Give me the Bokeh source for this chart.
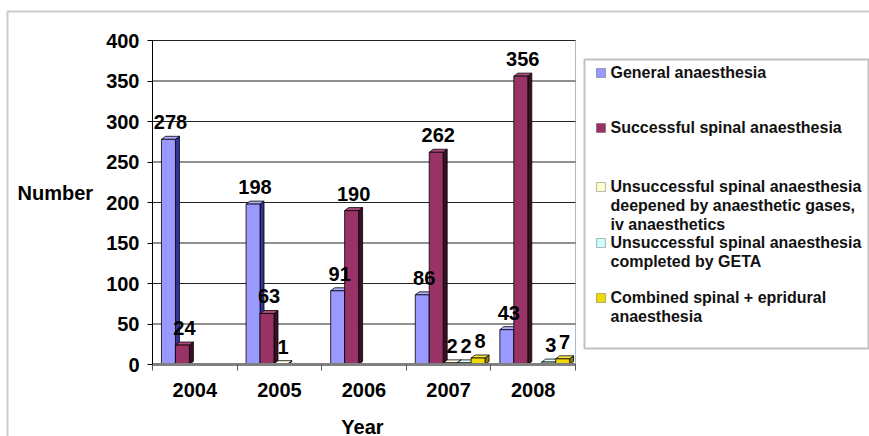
from bokeh.plotting import figure
from bokeh.models import (Range1d, FixedTicker, ColumnDataSource, Label, BoxAnnotation,
                          LinearAxis)
from bokeh.embed import file_html
from bokeh.resources import INLINE
from bokeh.core.properties import value

# ---------------- data ----------------
years = ["2004", "2005", "2006", "2007", "2008"]
general = [278, 198, 91, 86, 43]
spinal_ok = [24, 63, 190, 262, 356]
spinal_deepened = [0, 1, 0, 2, 0]
spinal_geta = [0, 0, 0, 2, 3]
combined = [0, 0, 0, 8, 7]
series_values = [general, spinal_ok, spinal_deepened, spinal_geta, combined]
legend_lines = [
    ["General anaesthesia"],
    ["Successful spinal anaesthesia"],
    ["Unsuccessful spinal anaesthesia", "deepened by anaesthetic gases,", "iv anaesthetics"],
    ["Unsuccessful spinal anaesthesia", "completed by GETA"],
    ["Combined spinal + epridural", "anaesthesia"],
]
y_ticks = [0, 50, 100, 150, 200, 250, 300, 350, 400]
y_max = 400
y_label = "Number"
x_label = "Year"

# ---------------- style / geometry ----------------
W, H = 869, 436
L, R, T, B = 152, 575, 40, 364          # plot-area edges in pixels
FONT = "Liberation Sans"
front_colors = ["#9999FF", "#993366", "#FFFFCC", "#CCFFFF", "#F2DA00"]
side_colors = ["#333399", "#3A1026", "#9C9C70", "#7FA3A3", "#8C7E00"]
top_colors = ["#B0B0FF", "#B04A7C", "#FFFFE6", "#E6FFFF", "#FFEA4D"]

n = len(years)
px_x = (R - L) / n
px_y = (B - T) / float(y_max)
depth_x = 4.0 / px_x
depth_y = 3.0 / px_y
group_start = 0.106
pitch = 0.165
label_gap = 17.0 / px_y

x_range = Range1d(-L / px_x, n + (W - R) / px_x)
y_range = Range1d(-(H - B) / px_y, y_max + T / px_y)

p = figure(width=W, height=H, x_range=x_range, y_range=y_range,
           output_backend="svg", toolbar_location=None, title=None,
           x_axis_location=None, y_axis_location=None,
           min_border=0, min_border_left=0, min_border_right=0,
           min_border_top=0, min_border_bottom=0)
p.background_fill_color = "white"
p.border_fill_color = "white"
p.outline_line_color = None
p.xgrid.grid_line_color = None
p.ygrid.grid_line_color = None

# back wall outline + horizontal grid lines
p.quad(left=[0], right=[n], bottom=[0], top=[y_max], fill_color=None,
       line_color="#A6BCCB", line_width=1)
p.segment(x0=[0] * len(y_ticks), x1=[n] * len(y_ticks), y0=y_ticks, y1=y_ticks,
          line_color="#222222", line_width=1)

# y axis
yaxis = LinearAxis(fixed_location=0, bounds=(0, y_max))
yaxis.ticker = FixedTicker(ticks=y_ticks)
yaxis.major_label_text_font = FONT
yaxis.major_label_text_font_style = "bold"
yaxis.major_label_text_font_size = "20px"
yaxis.major_label_text_color = "black"
yaxis.major_label_standoff = 8
yaxis.major_tick_in = 0
yaxis.major_tick_out = 5
yaxis.minor_tick_line_color = None
yaxis.axis_line_color = "black"
yaxis.major_tick_line_color = "black"
p.add_layout(yaxis, "left")

# x axis (floor)
centers = [i + 0.5 for i in range(n)]
xaxis = LinearAxis(fixed_location=0, bounds=(0, n))
xaxis.ticker = FixedTicker(ticks=centers, minor_ticks=list(range(n + 1)))
xaxis.major_label_overrides = {c: y for c, y in zip(centers, years)}
xaxis.major_label_text_font = FONT
xaxis.major_label_text_font_style = "bold"
xaxis.major_label_text_font_size = "20px"
xaxis.major_label_text_color = "black"
xaxis.major_label_standoff = 12
xaxis.major_tick_in = 0
xaxis.major_tick_out = 0
xaxis.minor_tick_in = 0
xaxis.minor_tick_out = 6
xaxis.minor_tick_line_color = "#555555"
xaxis.axis_line_color = "#808080"
xaxis.axis_line_width = 3
p.add_layout(xaxis, "below")

# bars (3D look: side + top faces computed from the values)
for k, vals in enumerate(series_values):
    lefts, rights, tops, side_xs, side_ys, top_xs, top_ys = [], [], [], [], [], [], []
    for i, v in enumerate(vals):
        if v <= 0:
            continue
        l = i + group_start + k * pitch
        r = l + pitch
        lefts.append(l); rights.append(r); tops.append(v)
        side_xs.append([r, r + depth_x, r + depth_x, r])
        side_ys.append([0, depth_y, v + depth_y, v])
        top_xs.append([l, r, r + depth_x, l + depth_x])
        top_ys.append([v, v, v + depth_y, v + depth_y])
    if not lefts:
        continue
    p.patches(side_xs, side_ys, fill_color=side_colors[k], line_color="black", line_width=0.8)
    p.patches(top_xs, top_ys, fill_color=top_colors[k], line_color="black", line_width=0.8)
    p.quad(left=lefts, right=rights, bottom=[0] * len(lefts), top=tops,
           fill_color=front_colors[k], line_color="black", line_width=0.8)

# data labels
for k, vals in enumerate(series_values):
    lab_x, lab_y, lab_t = [], [], []
    for i, v in enumerate(vals):
        if v <= 0:
            continue
        l = i + group_start + k * pitch
        lab_x.append(l + pitch / 2 + depth_x / 2)
        lab_y.append(v + label_gap)
        lab_t.append(str(v))
    if lab_x:
        src = ColumnDataSource(dict(x=lab_x, y=lab_y, t=lab_t))
        p.text(x="x", y="y", text="t", source=src, text_align="center",
               text_baseline="middle",
               text_font=value(FONT), text_font_style="bold",
               text_font_size="20px", text_color="black")

# outer border
p.add_layout(BoxAnnotation(left=7, right=W + 10, top=11, bottom=H + 10,
                           left_units="canvas", right_units="canvas",
                           top_units="canvas", bottom_units="canvas",
                           fill_alpha=0, line_color="#555555", line_width=2))

# axis titles
p.add_layout(Label(x=17, y=192, x_units="canvas", y_units="canvas", text=y_label,
                   text_font=FONT, text_font_style="bold", text_font_size="20px",
                   text_align="left", text_baseline="middle", text_color="black"))
p.add_layout(Label(x=362, y=426, x_units="canvas", y_units="canvas", text=x_label,
                   text_font=FONT, text_font_style="bold", text_font_size="20px",
                   text_align="center", text_baseline="middle", text_color="black"))

# legend
p.add_layout(BoxAnnotation(left=584, right=868, top=59, bottom=348,
                           left_units="canvas", right_units="canvas",
                           top_units="canvas", bottom_units="canvas",
                           fill_color="white", fill_alpha=1,
                           line_color="#333333", line_width=2))
legend_y0 = [72, 127, 186, 242, 297]
line_gap = 19
for k, lines in enumerate(legend_lines):
    yc = legend_y0[k]
    p.add_layout(BoxAnnotation(left=596, right=605, top=yc - 4, bottom=yc + 5,
                               left_units="canvas", right_units="canvas",
                               top_units="canvas", bottom_units="canvas",
                               fill_color=front_colors[k], fill_alpha=1,
                               line_color="#222222", line_width=1.2))
    for j, txt in enumerate(lines):
        p.add_layout(Label(x=610, y=yc + j * line_gap, x_units="canvas", y_units="canvas",
                           text=txt, text_font=FONT, text_font_style="bold",
                           text_font_size="16px", text_align="left",
                           text_baseline="middle", text_color="#111111"))

open("out.html", "w").write(file_html(p, INLINE))
